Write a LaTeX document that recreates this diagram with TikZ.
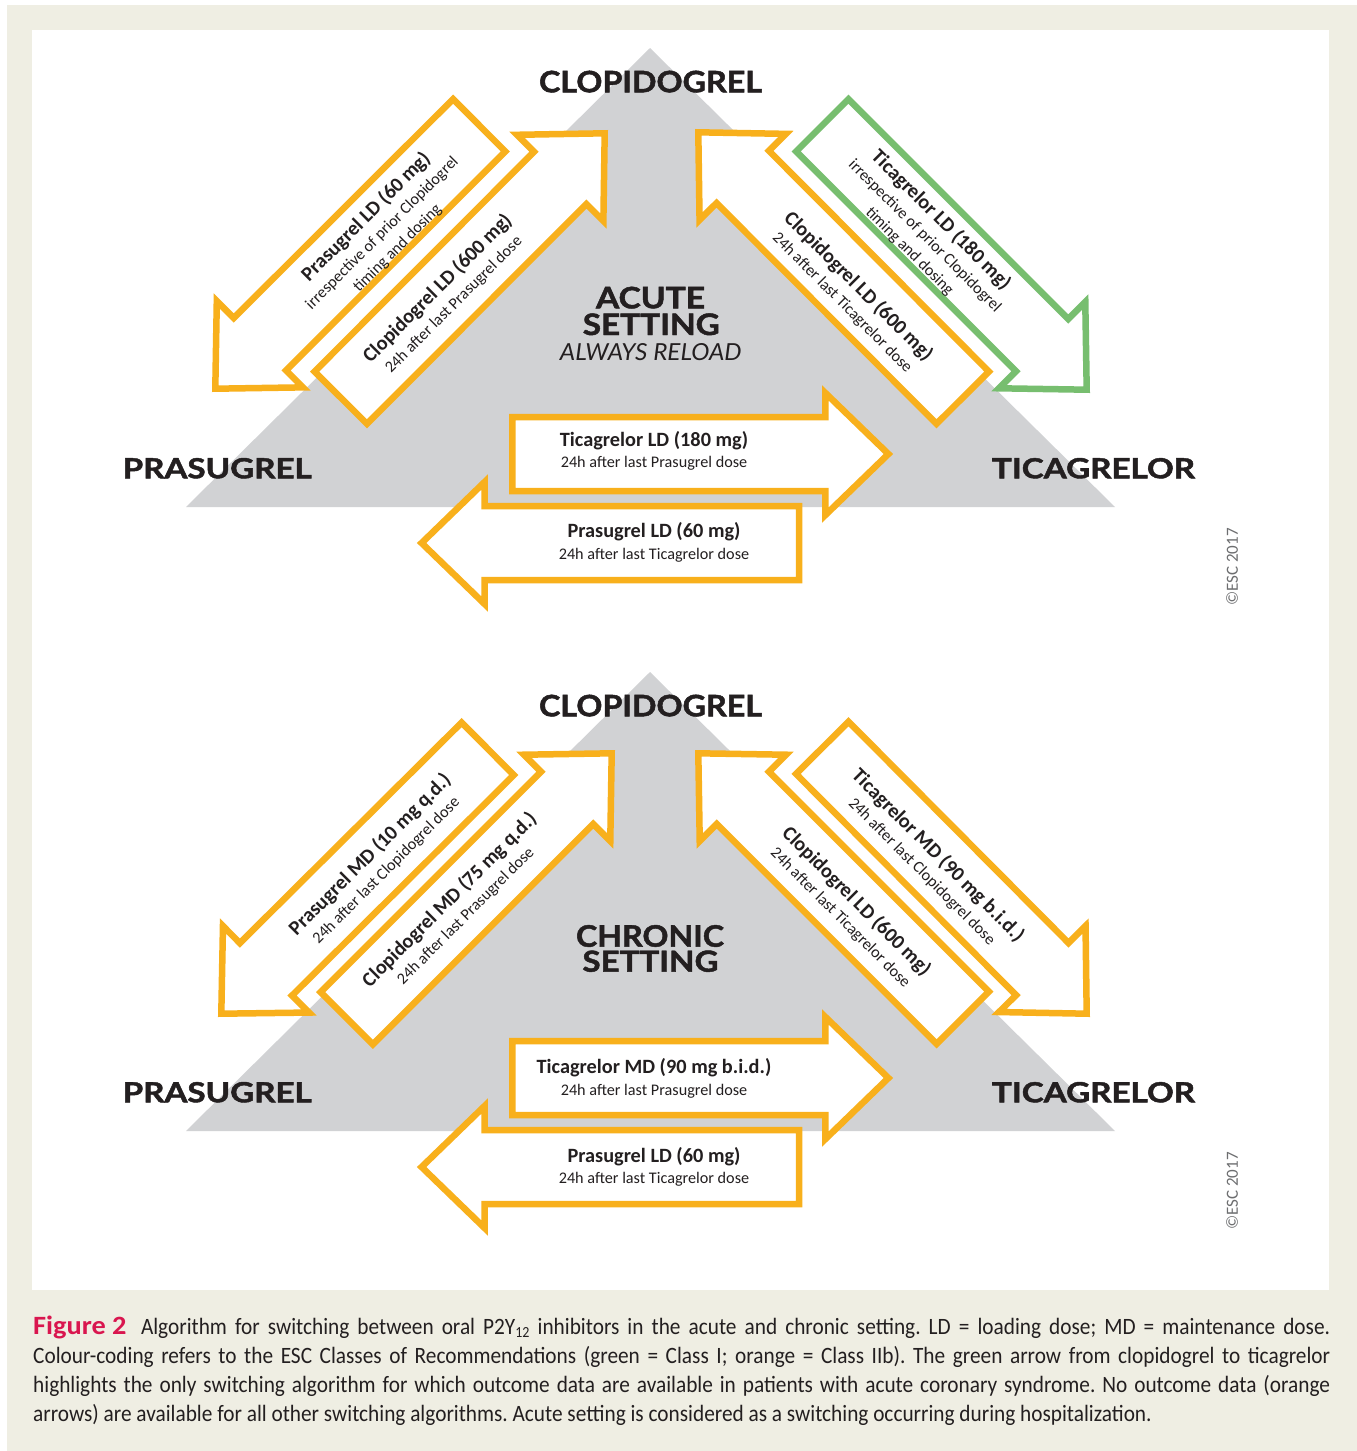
\documentclass[tikz,border=0pt]{standalone}
\usepackage{fontspec}
\setmainfont{Carlito}
\newfontfamily\labfont{Lato}[BoldFeatures={FakeBold=1.6}]
\usetikzlibrary{calc}
\frenchspacing
\definecolor{escorange}{HTML}{F8B01C}
\definecolor{escgreen}{HTML}{77BE6F}
\definecolor{escgray}{HTML}{D1D2D4}
\definecolor{esctext}{HTML}{231F20}
\definecolor{escbeige}{HTML}{EFEEE3}
\definecolor{escred}{HTML}{D9164F}
\definecolor{esclight}{HTML}{6D6E70}
\def\sw{37pt}\def\hw{61pt}\def\hl{63pt}
\newcommand\fatarrow[3]{%
  \coordinate (#3-base) at ($(#3)!\hl!(#2)$);
  \draw[#1] ($(#2)!\sw!90:(#3)$) -- ($(#3-base)!\sw!90:(#3)$) -- ($(#3-base)!\hw!90:(#3)$) -- (#3)
    -- ($(#3-base)!\hw!-90:(#3)$) -- ($(#3-base)!\sw!-90:(#3)$) -- ($(#2)!\sw!-90:(#3)$) -- cycle;}
\newcommand\bt[1]{{\bfseries\fontsize{20.3}{21.5}\selectfont #1}}
\newcommand\biglab[6]{\node[labtxt, anchor=base] (#1) at (#2,#3) {\resizebox{#4pt}{#5pt}{#6}};}
\newcommand\capline[1]{\scalebox{1}[1.1]{#1}}
\begin{document}
\begin{tikzpicture}[x=1pt,y=-1pt,
  arr/.style={draw=escorange, line width=6.5pt, fill=white, line join=miter},
  garr/.style={arr, draw=escgreen},
  labtxt/.style={text=esctext, inner sep=0pt, font=\labfont\bfseries},
  atext/.style={align=center, text=esctext, inner sep=0pt, font=\fontsize{16.2}{21.5}\selectfont},
  captxt/.style={text=esctext, inner sep=0pt, font=\fontsize{21.3}{29}\selectfont},
  copytxt/.style={text=esclight, inner sep=0pt, font=\fontsize{17}{17}\selectfont, rotate=90}]
\useasboundingbox (0,0) rectangle (1357,1451);
\fill[white] (0,0) rectangle (1357,1451);
\fill[escbeige] (7,5) rectangle (1357,1451);
\fill[white] (32,30) rectangle (1329,1290);
% ---------- triangles
\coordinate (tl) at (186,507); \coordinate (tt) at (650,48); \coordinate (tr) at (1115,507);
\coordinate (bl) at (186,1131); \coordinate (bt) at (650,672); \coordinate (br) at (1115,1131);
\fill[escgray] (tl) -- (tt) -- (tr) -- cycle;
\fill[escgray] (bl) -- (bt) -- (br) -- cycle;
% ---------- top panel arrows
\coordinate (a1b) at (479.2,125.3); \coordinate (a1t) at (215.3,388.7);
\coordinate (a2b) at (340.8,397.7); \coordinate (a2t) at (604.7,133.3);
\coordinate (a3b) at (962.7,397.7); \coordinate (a3t) at (698.3,132.3);
\coordinate (a4b) at (822.3,125.3); \coordinate (a4t) at (1086.7,389.7);
\coordinate (h1b) at (512.3,454);   \coordinate (h1t) at (888.4,454);
\coordinate (h2b) at (799,543);     \coordinate (h2t) at (421.6,543);
\fatarrow{arr}{a1b}{a1t}
\fatarrow{arr}{a2b}{a2t}
\fatarrow{arr}{a3b}{a3t}
\fatarrow{garr}{a4b}{a4t}
\fatarrow{arr}{h1b}{h1t}
\fatarrow{arr}{h2b}{h2t}
% ---------- bottom panel arrows
\coordinate (b1b) at (487.7,748.8); \coordinate (b1t) at (221.3,1013.7);
\coordinate (b2b) at (346.8,1018.2); \coordinate (b2t) at (611.7,753.3);
\coordinate (b3b) at (962.7,1017.7); \coordinate (b3t) at (698.3,753.3);
\coordinate (b4b) at (822.3,747.8); \coordinate (b4t) at (1086.7,1013.7);
\coordinate (g1b) at (512.3,1078);  \coordinate (g1t) at (888.4,1078);
\coordinate (g2b) at (799,1167);    \coordinate (g2t) at (421.6,1167);
\fatarrow{arr}{b1b}{b1t}
\fatarrow{arr}{b2b}{b2t}
\fatarrow{arr}{b3b}{b3t}
\fatarrow{arr}{b4b}{b4t}
\fatarrow{arr}{g1b}{g1t}
\fatarrow{arr}{g2b}{g2t}
% ---------- top panel labels
\biglab{clo1}{650.5}{92.3}{223}{21.6}{CLOPIDOGREL}
\biglab{pra1}{217.2}{478.3}{189}{20.3}{PRASUGREL}
\biglab{tic1}{1093.5}{478.3}{203}{20.3}{TICAGRELOR}
\biglab{acu}{650.5}{308.3}{109}{21.6}{ACUTE}
\biglab{set1}{651.3}{335}{137}{21.6}{SETTING}
\biglab{rel}{650.8}{360}{181.7}{17}{\mdseries\itshape ALWAYS RELOAD}
% ---------- bottom panel labels
\biglab{clo2}{650.5}{716.3}{223}{21.6}{CLOPIDOGREL}
\biglab{pra2}{217.2}{1102.3}{189}{20.3}{PRASUGREL}
\biglab{tic2}{1093.5}{1102.3}{203}{20.3}{TICAGRELOR}
\biglab{chr}{650}{946.7}{148}{21.7}{CHRONIC}
\biglab{set2}{650.5}{971.7}{136}{21.2}{SETTING}
% ---------- arrow texts, top
\node[atext, rotate=45] (ta1) at (381,232) {\bt{Prasugrel LD (60 mg)}\\irrespective of prior Clopidogrel\\timing and dosing};
\node[atext, rotate=45] (ta2) at (445,296) {\bt{Clopidogrel LD (600 mg)}\\24h after last Prasugrel dose};
\node[atext, rotate=-45] (ta3) at (851,294) {\bt{Clopidogrel LD (600 mg)}\\24h after last Ticagrelor dose};
\node[atext, rotate=-45] (ta4) at (926,235) {\bt{Ticagrelor LD (180 mg)}\\irrespective of prior Clopidogrel\\timing and dosing};
\node[atext] (th1) at (654,451) {\bt{Ticagrelor LD (180 mg)}\\24h after last Prasugrel dose};
\node[atext] (th2) at (654,542.5) {\bt{Prasugrel LD (60 mg)}\\24h after last Ticagrelor dose};
% ---------- arrow texts, bottom
\node[atext, rotate=45] (tb1) at (377.5,862) {\bt{Prasugrel MD (10 mg q.d.)}\\24h after last Clopidogrel dose};
\node[atext, rotate=45] (tb2) at (457,907.5) {\bt{Clopidogrel MD (75 mg q.d.)}\\24h after last Prasugrel dose};
\node[atext, rotate=-45] (tb3) at (849,909) {\bt{Clopidogrel LD (600 mg)}\\24h after last Ticagrelor dose};
\node[atext, rotate=-45] (tb4) at (930.5,863) {\bt{Ticagrelor MD (90 mg b.i.d.)}\\24h after last Clopidogrel dose};
\node[atext] (tg1) at (654,1078.5) {\bt{Ticagrelor MD (90 mg b.i.d.)}\\24h after last Prasugrel dose};
\node[atext] (tg2) at (654,1167) {\bt{Prasugrel LD (60 mg)}\\24h after last Ticagrelor dose};
% ---------- copyright
\node[copytxt] (esc1) at (1232,567) {©ESC 2017};
\node[copytxt] (esc2) at (1232,1191) {©ESC 2017};
% ---------- caption
\node[captxt, anchor=base west] (c1) at (33,1334) {\capline{\makebox[1297pt][s]{{\color{escred}\bfseries\fontsize{24}{29}\selectfont\scalebox{1.18}[1]{Figure 2}}\hspace{0.3em} Algorithm for switching between oral P2Y\raisebox{-0.3ex}{\fontsize{14}{14}\selectfont 12} inhibitors in the acute and chronic setting. LD = loading dose; MD = maintenance dose.}}};
\node[captxt, anchor=base west] (c2) at (33,1363) {\capline{\makebox[1297pt][s]{Colour-coding refers to the ESC Classes of Recommendations (green = Class I; orange = Class IIb). The green arrow from clopidogrel to ticagrelor}}};
\node[captxt, anchor=base west] (c3) at (33,1392) {\capline{\makebox[1297pt][s]{highlights the only switching algorithm for which outcome data are available in patients with acute coronary syndrome. No outcome data (orange}}};
\node[captxt, anchor=base west] (c4) at (33,1421) {\capline{arrows) are available for all other switching algorithms. Acute setting is considered as a switching occurring during hospitalization.}};
\end{tikzpicture}
\end{document}
